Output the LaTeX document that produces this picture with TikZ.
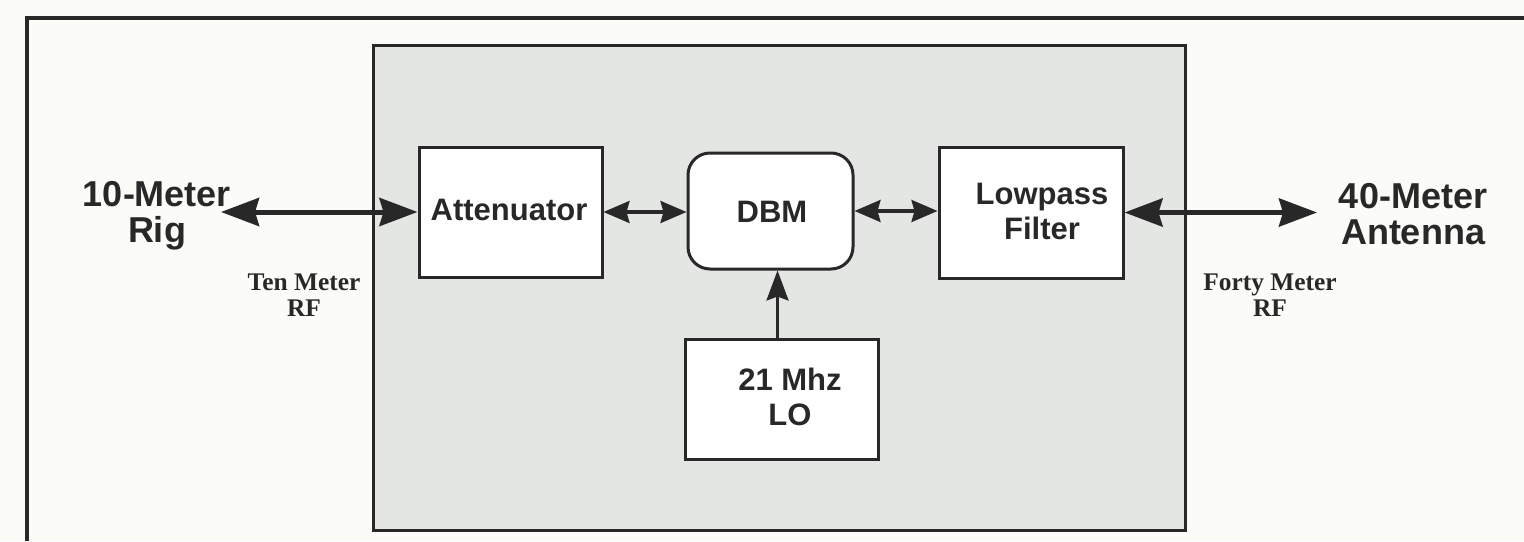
\documentclass[tikz,border=0pt]{standalone}
\usepackage{fontspec}
\setmainfont{Liberation Sans}
\newfontfamily\timesf{Liberation Serif}
\usetikzlibrary{arrows.meta}
\definecolor{ink}{RGB}{40,40,40}
\definecolor{panelgray}{RGB}{228,230,228}
\definecolor{paper}{RGB}{251,251,248}
\begin{document}
\begin{tikzpicture}[x=0.5pt,y=-0.5pt,
  frame/.style={draw=ink,line width=2pt},
  blk/.style={draw=ink,line width=1.5pt,fill=white,inner sep=0pt},
  blktext/.style={font=\fontsize{15.5}{17.5}\selectfont\bfseries,text=ink,align=center,inner sep=0pt},
  biglabel/.style={font=\fontsize{18}{18}\selectfont\bfseries,text=ink,align=center,inner sep=0pt},
  smalllabel/.style={font=\timesf\bfseries\fontsize{12.7}{13}\selectfont,text=ink,align=center,inner sep=0pt},
  bigarrow/.style={draw=ink,line width=2.5pt,{Stealth[length=19pt,width=14pt,inset=2pt]}-{Stealth[length=19pt,width=14pt,inset=2pt]}},
  smallarrow/.style={draw=ink,line width=1.6pt,{Stealth[length=13pt,width=11pt,inset=1.5pt]}-{Stealth[length=13pt,width=11pt,inset=1.5pt]}},
  loarrow/.style={draw=ink,line width=1.4pt,-{Stealth[length=15pt,width=11pt,inset=2pt]}}]
\fill[paper] (0,0) rectangle (1524,541);
\useasboundingbox (0,0) rectangle (1524,541);
% outer frame (runs off the right and bottom)
\draw[frame] (27,541) -- (27,18) -- (1524,18);
% shaded panel
\node[draw=ink,line width=1.5pt,fill=panelgray,minimum width=406pt,minimum height=242.5pt,inner sep=0pt] (panel) at (779,287.5) {};
% blocks
\node[blk,minimum width=91.5pt,minimum height=65pt] (att) at (510.5,212) {};
\node[blktext] (attt) at (509,210) {Attenuator};
\node[blk,rounded corners=11pt,minimum width=82.5pt,minimum height=58pt] (dbm) at (770.5,211) {};
\node[blktext] (dbmt) at (772,212) {DBM};
\node[blk,minimum width=92pt,minimum height=65.5pt] (lpf) at (1031,212.5) {};
\node[blktext] (lpft) at (1042,211) {Lowpass\\Filter};
\node[blk,minimum width=96.5pt,minimum height=60pt] (lo) at (781.5,399) {};
\node[blktext] (lot) at (790,397) {21 Mhz\\LO};
% outer labels
\node[biglabel] (rig) at (157,216) {10-Meter\\Rig};
\node[biglabel] (ant) at (1413,214.5) {40-Meter\\Antenna};
\node[smalllabel] (ten) at (304,295) {Ten Meter\\RF};
\node[smalllabel] (forty) at (1270,295) {Forty Meter\\RF};
\coordinate (rigend) at (221,212);
\coordinate (antend) at (1317,212);
% connectors
\draw[bigarrow] (rigend) -- (att.west);
\draw[smallarrow] (att.east) -- (att.east -| dbm.west);
\draw[smallarrow] (dbm.east) -- (dbm.east -| lpf.west);
\draw[bigarrow] (lpf.east) -- (lpf.east -| antend);
\draw[loarrow] ([xshift=-2pt]lo.north) -- ([xshift=-2pt]lo.north |- dbm.south);
\end{tikzpicture}
\end{document}
